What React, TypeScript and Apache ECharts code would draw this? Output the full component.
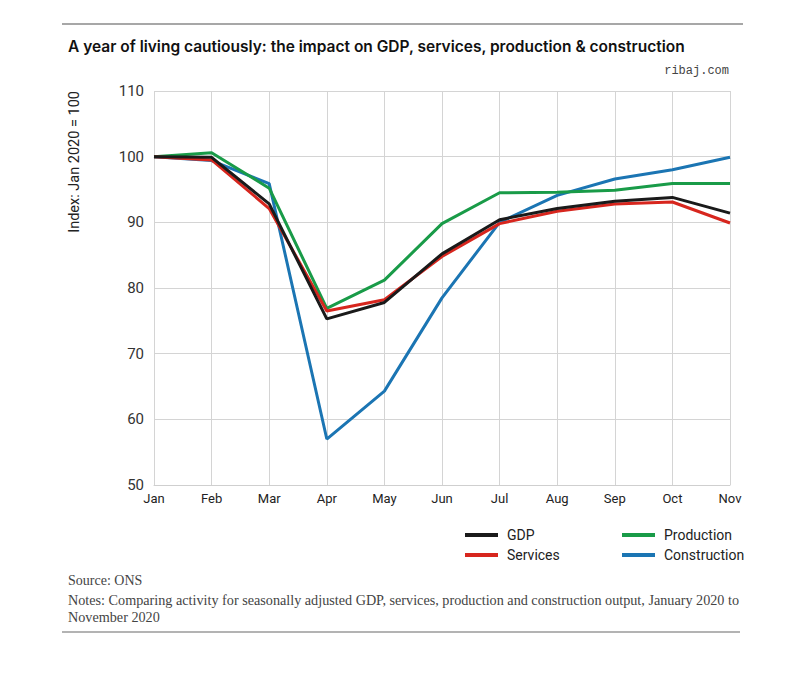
import React, { useEffect, useRef } from "react";
import * as echarts from "echarts";

const months = ["Jan", "Feb", "Mar", "Apr", "May", "Jun", "Jul", "Aug", "Sep", "Oct", "Nov"];
const gdp = [100, 99.9, 92.8, 75.3, 77.8, 85.2, 90.4, 92.1, 93.2, 93.8, 91.4];
const services = [100, 99.5, 92.1, 76.5, 78.2, 84.8, 89.8, 91.7, 92.8, 93.1, 89.9];
const production = [100, 100.6, 95.2, 76.9, 81.2, 89.8, 94.5, 94.6, 94.9, 95.9, 95.9];
const construction = [100, 99.4, 95.9, 57.0, 64.3, 78.5, 90.0, 94.1, 96.6, 98.0, 99.9];
const yTicks = { min: 50, max: 110, interval: 10 };

const seriesDefs = [
  { name: "Construction", data: construction, color: "#1b75b3" },
  { name: "Production", data: production, color: "#199b48" },
  { name: "Services", data: services, color: "#d7261e" },
  { name: "GDP", data: gdp, color: "#1a1a1a" },
];

const axisFont = "Roboto, 'DejaVu Sans', sans-serif";
const serifFont = "'Liberation Serif', 'DejaVu Serif', serif";

export default function App() {
  const ref = useRef<HTMLDivElement>(null);
  useEffect(() => {
    document.body.style.margin = "0";
    const chart = echarts.init(ref.current!, null, { renderer: "svg" });
    const legendCommon = {
      orient: "vertical" as const,
      itemWidth: 33,
      itemHeight: 4,
      itemGap: 6,
      icon: "rect",
      textStyle: { fontFamily: axisFont, fontSize: 14, color: "#222", padding: [0, 0, 0, 4] },
    };
    chart.setOption({
      animation: false,
      backgroundColor: "#fff",
      grid: { left: 154, right: 70, top: 91, bottom: 193 },
      legend: [
        { ...legendCommon, data: ["GDP", "Services"], left: 460, top: 523 },
        { ...legendCommon, data: ["Production", "Construction"], left: 617, top: 523 },
      ],
      xAxis: {
        type: "category",
        data: months,
        boundaryGap: false,
        axisLine: { show: true, lineStyle: { color: "#cfcfcf" } },
        axisTick: { show: false },
        splitLine: { show: true, lineStyle: { color: "#d4d4d4" } },
        axisLabel: { fontFamily: axisFont, fontSize: 13, color: "#222", margin: 7 },
      },
      yAxis: {
        type: "value",
        min: yTicks.min,
        max: yTicks.max,
        interval: yTicks.interval,
        name: "Index: Jan 2020 = 100",
        nameLocation: "end",
        nameRotate: 90,
        nameGap: 0,
        nameTextStyle: { fontFamily: axisFont, fontSize: 14.5, color: "#222", align: "right", verticalAlign: "bottom", padding: [0, 0, 72, 0] },
        axisLine: { show: false },
        axisTick: { show: false },
        splitLine: { show: true, lineStyle: { color: "#d4d4d4" } },
        axisLabel: { fontFamily: axisFont, fontSize: 15, color: "#333", margin: 10 },
      },
      series: seriesDefs.map((s) => ({
        name: s.name,
        type: "line",
        data: s.data,
        symbol: "none",
        lineStyle: { width: 3, color: s.color },
        itemStyle: { color: s.color },
      })),
      graphic: [
        { type: "line", shape: { x1: 62, y1: 24, x2: 743, y2: 24 }, style: { stroke: "#8a8a8a", lineWidth: 1.5 } },
        { type: "text", left: 68, top: 38, style: { text: "A year of living cautiously: the impact on GDP, services, production & construction", fontFamily: "Inter, 'Liberation Sans', sans-serif", fontSize: 15.5, fontWeight: 600, fill: "#111" } },
        { type: "text", right: 71, top: 65, style: { text: "ribaj.com", fontFamily: "'Liberation Mono', monospace", fontSize: 12, fill: "#444" } },
        { type: "text", left: 68, top: 573, style: { text: "Source: ONS", fontFamily: serifFont, fontSize: 14, fill: "#444" } },
        { type: "text", left: 68, top: 591, style: { text: "Notes: Comparing activity for seasonally adjusted GDP, services, production and construction output, January 2020 to\nNovember 2020", fontFamily: serifFont, fontSize: 14.2, lineHeight: 17, fill: "#444" } },
        { type: "line", shape: { x1: 62, y1: 632, x2: 740, y2: 632 }, style: { stroke: "#9a9a9a", lineWidth: 1.5 } },
      ],
    });
    return () => chart.dispose();
  }, []);
  return <div ref={ref} style={{ width: 800, height: 678 }} />;
}
